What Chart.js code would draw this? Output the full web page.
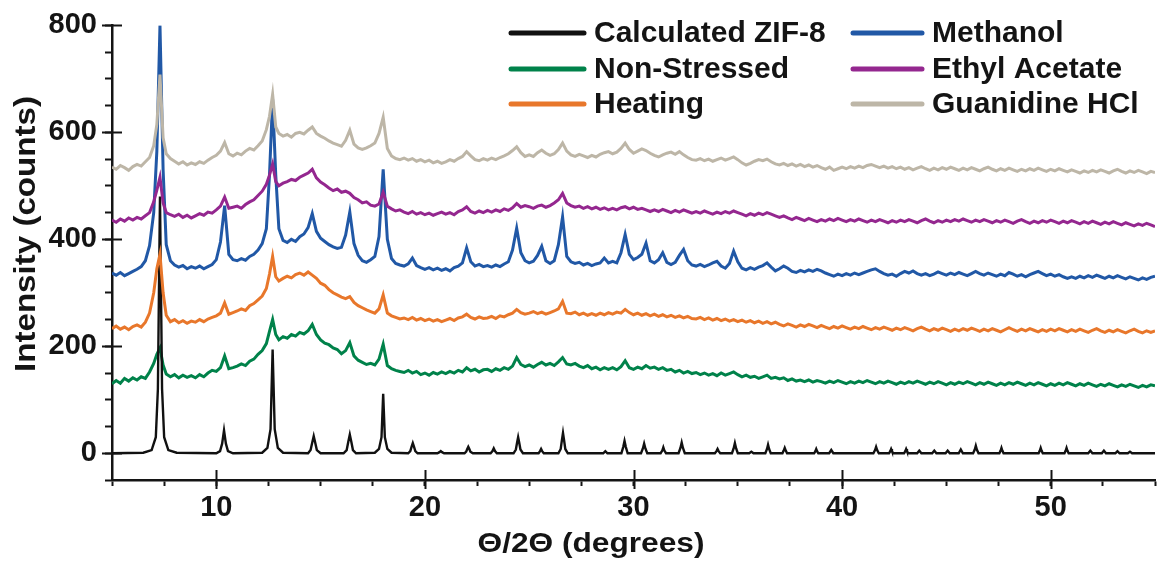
<!DOCTYPE html>
<html>
<head>
<meta charset="utf-8">
<script src="https://cdn.jsdelivr.net/npm/chart.js@4.4.0/dist/chart.umd.min.js"></script>
<style>
  html, body { margin: 0; padding: 0; background: #ffffff; }
  #wrap { width: 1160px; height: 563px; }
</style>
</head>
<body>
<div id="wrap"><canvas id="xrd" width="1160" height="563"></canvas></div>
<script>
// 2theta grid shared by the measured patterns (denser around 7.3 and 12.7)
const twoTheta = [
  5.0, 5.2, 5.4, 5.6, 5.8, 6.0, 6.2, 6.4, 6.6, 6.8,
  7.0, 7.15, 7.3, 7.45, 7.6, 7.8, 8.0, 8.2, 8.4, 8.6, 8.8,
  9.0, 9.2, 9.4, 9.6, 9.8, 10.0, 10.2, 10.4, 10.6, 10.8,
  11.0, 11.2, 11.4, 11.6, 11.8, 12.0, 12.2, 12.4, 12.55, 12.7, 12.85,
  13.0, 13.2, 13.4, 13.6, 13.8, 14.0, 14.2, 14.4, 14.6, 14.8,
  15.0, 15.2, 15.4, 15.6, 15.8, 16.0, 16.2, 16.4, 16.6, 16.8,
  17.0, 17.2, 17.4, 17.6, 17.8, 18.0, 18.2, 18.4, 18.6, 18.8,
  19.0, 19.2, 19.4, 19.6, 19.8, 20.0, 20.2, 20.4, 20.6, 20.8,
  21.0, 21.2, 21.4, 21.6, 21.8, 22.0, 22.2, 22.4, 22.6, 22.8,
  23.0, 23.2, 23.4, 23.6, 23.8, 24.0, 24.2, 24.4, 24.6, 24.8,
  25.0, 25.2, 25.4, 25.6, 25.8, 26.0, 26.2, 26.4, 26.6, 26.8,
  27.0, 27.2, 27.4, 27.6, 27.8, 28.0, 28.2, 28.4, 28.6, 28.8,
  29.0, 29.2, 29.4, 29.6, 29.8, 30.0, 30.2, 30.4, 30.6, 30.8,
  31.0, 31.2, 31.4, 31.6, 31.8, 32.0, 32.2, 32.4, 32.6, 32.8,
  33.0, 33.2, 33.4, 33.6, 33.8, 34.0, 34.2, 34.4, 34.6, 34.8,
  35.0, 35.2, 35.4, 35.6, 35.8, 36.0, 36.2, 36.4, 36.6, 36.8,
  37.0, 37.2, 37.4, 37.6, 37.8, 38.0, 38.2, 38.4, 38.6, 38.8,
  39.0, 39.2, 39.4, 39.6, 39.8, 40.0, 40.2, 40.4, 40.6, 40.8,
  41.0, 41.2, 41.4, 41.6, 41.8, 42.0, 42.2, 42.4, 42.6, 42.8,
  43.0, 43.2, 43.4, 43.6, 43.8, 44.0, 44.2, 44.4, 44.6, 44.8,
  45.0, 45.2, 45.4, 45.6, 45.8, 46.0, 46.2, 46.4, 46.6, 46.8,
  47.0, 47.2, 47.4, 47.6, 47.8, 48.0, 48.2, 48.4, 48.6, 48.8,
  49.0, 49.2, 49.4, 49.6, 49.8, 50.0, 50.2, 50.4, 50.6, 50.8,
  51.0, 51.2, 51.4, 51.6, 51.8, 52.0, 52.2, 52.4, 52.6, 52.8,
  53.0, 53.2, 53.4, 53.6, 53.8, 54.0, 54.2, 54.4, 54.6, 54.8,
  55.0
];

const nonStressed = [
  130, 136, 131, 140, 135, 141, 137, 143, 140, 152,
  168, 185, 197, 165, 148, 143, 147, 141, 146, 142, 145,
  141, 147, 143, 150, 155, 153, 160, 182, 158, 160,
  163, 167, 164, 172, 176, 185, 192, 205, 228, 250, 222,
  212, 218, 215, 222, 219, 226, 223, 229, 241, 222,
  212, 206, 203, 197, 194, 186, 192, 207, 182, 174,
  170, 166, 168, 165, 176, 204, 164, 158, 155, 153,
  151, 155, 150, 153, 147, 150, 146, 151, 148, 152,
  149, 153, 150, 155, 152, 160, 154, 157, 152, 156,
  157, 153, 158, 155, 160, 157, 163, 179, 166, 162,
  165, 161, 166, 170, 165, 168, 164, 171, 179, 167,
  165, 168, 163, 160, 164, 158, 161, 156, 160, 157,
  160, 156, 162, 173, 160, 157, 161, 158, 164, 159,
  161, 157, 160, 155, 157, 152, 155, 150, 153, 149,
  151, 147, 150, 146, 149, 145, 150, 146, 149, 152,
  147, 143, 146, 142, 144, 140, 143, 146, 140, 142,
  139, 141, 136, 139, 135, 137, 134, 137, 133, 136,
  134, 131, 135, 132, 136, 133, 130, 134, 131, 135,
  132, 136, 133, 130, 134, 131, 135, 132, 129, 133,
  130, 134, 131, 135, 132, 129, 133, 130, 134, 131,
  128, 132, 129, 133, 130, 134, 131, 128, 132, 129,
  133, 130, 127, 131, 128, 132, 129, 133, 130, 127,
  131, 128, 132, 129, 126, 130, 127, 131, 128, 132,
  129, 126, 130, 127, 131, 128, 125, 129, 126, 130,
  127, 124, 128, 125, 129, 126, 123, 127, 124, 128,
  126
];

const heating = [
  233, 238, 232, 236, 231, 237, 240, 236, 245, 262,
  300, 345, 372, 300, 258, 246, 250, 244, 248, 243, 247,
  245, 250, 246, 251, 254, 257, 262, 281, 260, 263,
  266, 270, 267, 276, 280, 287, 294, 308, 335, 368, 330,
  322, 327, 331, 328, 334, 337, 333, 339, 333, 327,
  318, 314, 306, 300, 296, 292, 289, 293, 282, 276,
  272, 268, 265, 262, 270, 296, 262, 257, 254, 251,
  253, 250, 254, 249, 252, 248, 251, 247, 250, 246,
  249, 252, 248, 253, 255, 260, 254, 251, 255, 252,
  253, 256, 252, 257, 255, 259, 262, 269, 263, 260,
  262, 265, 261, 264, 260, 263, 266, 270, 284, 262,
  261, 264, 259, 262, 258, 261, 258, 262, 259, 263,
  260, 264, 262, 269, 263, 259, 262, 258, 261, 257,
  260, 256, 259, 255, 258, 254, 257, 253, 256, 252,
  251, 254, 250, 253, 249, 252, 248, 251, 247, 250,
  246, 249, 245, 248, 244, 247, 243, 246, 242, 245,
  241, 238, 242, 239, 236, 240, 237, 241, 238, 235,
  239, 236, 233, 237, 234, 238, 235, 232, 236, 233,
  237, 234, 231, 235, 232, 236, 233, 230, 234, 231,
  235, 232, 229, 233, 236, 232, 229, 233, 230, 234,
  231, 228, 232, 229, 233, 230, 234, 231, 228, 232,
  229, 233, 230, 227, 231, 235, 231, 228, 232, 229,
  233, 230, 227, 231, 228, 232, 229, 233, 230, 227,
  231, 228, 232, 229, 226, 230, 233, 229, 226, 230,
  227, 231, 228, 225, 229, 232, 228, 225, 229, 226,
  229
];

const methanol = [
  337, 333, 338, 332, 336, 340, 344, 349, 360, 388,
  450, 565, 800, 530, 390, 360, 352, 348, 351, 345, 349,
  346, 350, 345, 349, 353, 362, 395, 463, 372, 362,
  360, 364, 361, 368, 372, 380, 392, 420, 520, 662, 520,
  420, 398, 394, 400, 396, 405, 410, 422, 448, 415,
  402, 396, 390, 386, 383, 385, 408, 451, 392, 370,
  360, 357, 362, 368, 405, 531, 400, 364, 355, 352,
  350, 354, 365, 351, 347, 344, 347, 343, 346, 342,
  345, 341, 347, 350, 356, 384, 358, 350, 353, 349,
  351, 348, 352, 349, 354, 358, 380, 421, 375, 360,
  356, 359, 370, 387, 360, 355, 360, 390, 442, 368,
  358, 355, 357, 352, 355, 351, 354, 356, 365, 356,
  359, 356, 375, 409, 372, 362, 366, 372, 393, 360,
  356, 362, 375, 357, 353, 357, 370, 381, 360, 352,
  350, 353, 349, 352, 356, 359, 350, 346, 355, 378,
  358, 346, 343, 347, 344, 348, 351, 356, 348, 341,
  345, 350, 346, 340, 338, 342, 339, 343, 340, 344,
  341, 337, 334, 331, 335, 332, 336, 333, 337, 334,
  337, 340, 343, 345, 340, 336, 333, 335, 331, 336,
  340, 337, 341, 336, 333, 336, 332, 335, 339, 336,
  333, 337, 334, 338, 335, 332, 336, 340, 336, 333,
  337, 334, 331, 335, 332, 338, 335, 331, 334, 330,
  334, 337, 340, 336, 332, 335, 331, 334, 330, 327,
  330, 327, 331, 328, 332, 329, 333, 330, 327, 331,
  328, 332, 329, 326, 330, 327, 324, 328, 325, 329,
  331
];

const ethylAcetate = [
  436, 432, 438, 434, 440, 436, 441, 438, 444, 450,
  470, 492, 516, 468, 450, 446, 443, 447, 441, 445, 440,
  444, 448, 445, 451, 449, 455, 462, 479, 458, 460,
  462, 458, 465, 470, 474, 482, 490, 503, 520, 541, 508,
  500, 505, 508, 512, 510, 516, 520, 524, 531, 515,
  507, 502, 496, 491, 494, 488, 490, 486, 478, 474,
  468, 470, 464, 462, 466, 488, 462, 457, 453, 455,
  451, 448, 452, 447, 450, 446, 449, 445, 448, 451,
  447, 450, 446, 452, 455, 461, 452, 449, 453, 450,
  454, 451, 455, 452, 457, 454, 459, 467, 460, 463,
  461, 458, 462, 464, 460, 463, 468, 474, 486, 468,
  463, 460, 462, 458, 461, 457, 460, 456, 459, 455,
  458, 455, 459, 461, 457, 460, 456, 458, 455, 452,
  455, 452, 456, 453, 450, 454, 451, 455, 452, 449,
  452, 449, 453, 450, 447, 451, 448, 452, 449, 453,
  450, 447, 444, 448, 445, 449, 446, 450, 447, 444,
  441, 444, 440, 437, 441, 438, 435, 439, 436, 433,
  437, 434, 438, 435, 439, 436, 433, 437, 434, 438,
  435, 432, 436, 433, 437, 434, 431, 435, 432, 436,
  433, 437, 434, 431, 435, 438, 434, 431, 435, 432,
  436, 433, 437, 434, 438, 435, 432, 436, 433, 437,
  434, 431, 435, 432, 436, 433, 430, 434, 437, 433,
  430, 434, 431, 435, 432, 436, 433, 430, 434, 431,
  435, 432, 429, 433, 430, 434, 431, 428, 432, 429,
  433, 430, 427, 431, 428, 425, 429, 426, 430, 427,
  424
];

const guanidineHcl = [
  535, 531, 538, 534, 529, 536, 540, 537, 545, 553,
  575, 615, 708, 590, 560, 551, 546, 541, 545, 539, 543,
  540, 545, 542, 548, 553, 557, 565, 581, 560, 556,
  561, 558, 565, 570, 567, 575, 584, 605, 630, 671, 610,
  598, 593, 596, 591, 598, 600, 597, 604, 610, 598,
  593, 589, 584, 580, 577, 574, 585, 604, 578, 571,
  568, 571, 575, 580, 598, 628, 570, 556, 551, 549,
  552, 548, 551, 546, 549, 545, 548, 543, 546, 542,
  545, 549, 546, 551, 555, 564, 556, 549, 547, 551,
  548, 552, 549, 553, 556, 560, 566, 573, 562, 555,
  558, 555, 562, 567, 561, 557, 560, 568, 580, 565,
  558, 555, 559, 556, 553, 557, 554, 559, 562, 564,
  560, 563, 570, 580, 568, 561, 565, 569, 566, 561,
  557, 554, 558, 561, 563, 559, 564, 558, 553, 549,
  548, 551, 547, 550, 546, 549, 552, 548, 551, 554,
  549, 543, 539, 542, 546, 549, 547, 550, 545, 541,
  539, 542, 538, 541, 537, 540, 536, 539, 535, 538,
  534, 531, 535, 529, 532, 535, 532, 536, 533, 537,
  534, 538, 540, 537, 534, 537, 533, 536, 532, 535,
  531, 534, 530, 533, 536, 532, 529, 533, 530, 534,
  531, 535, 532, 529, 533, 530, 534, 531, 528, 532,
  535, 531, 528, 532, 529, 533, 530, 527, 531, 528,
  532, 529, 533, 530, 527, 531, 528, 532, 529, 526,
  530, 527, 524, 528, 525, 529, 526, 530, 527, 524,
  528, 531, 527, 524, 528, 525, 529, 526, 523, 527,
  525
];

// calculated pattern: flat baseline with sharp reflections (one row per reflection)
const calcTheta = [
  5.0, 6.5, 6.9, 7.1, 7.2, 7.3, 7.4, 7.5, 7.7, 8.1,
  10.0, 10.18, 10.28, 10.37, 10.46, 10.56, 10.8,
  12.2, 12.45, 12.6, 12.7, 12.8, 12.95, 13.2,
  14.4, 14.52, 14.6, 14.67, 14.74, 14.82, 15.0,
  16.1, 16.25, 16.33, 16.4, 16.47, 16.55, 16.7,
  17.6, 17.8, 17.92, 18.0, 18.08, 18.2, 18.4,
  19.2, 19.3, 19.36, 19.42, 19.48, 19.54, 19.65,
  20.6, 20.7, 20.76, 20.82, 20.92,
  21.9, 21.98, 22.03, 22.08, 22.13, 22.18, 22.3,
  23.15, 23.24, 23.3, 23.36, 23.45,
  24.25, 24.36, 24.42, 24.47, 24.52, 24.58, 24.7,
  25.45, 25.52, 25.57, 25.62, 25.7,
  26.4, 26.51, 26.57, 26.62, 26.67, 26.73, 26.85,
  28.55, 28.65, 28.75,
  29.42, 29.51, 29.57, 29.63, 29.72,
  30.36, 30.45, 30.51, 30.57, 30.66,
  31.3, 31.38, 31.43, 31.48, 31.56,
  32.16, 32.25, 32.31, 32.37, 32.46,
  33.9, 33.98, 34.03, 34.08, 34.16,
  34.72, 34.8, 34.86, 34.92, 35.0,
  35.55, 35.65, 35.75,
  36.32, 36.4, 36.45, 36.5, 36.58,
  37.14, 37.2, 37.25, 37.3, 37.36,
  38.66, 38.72, 38.76, 38.8, 38.86,
  39.38, 39.48, 39.58,
  41.5, 41.58, 41.63, 41.68, 41.76,
  42.25, 42.31, 42.35, 42.39, 42.45,
  42.97, 43.03, 43.07, 43.11, 43.17,
  43.6, 43.7, 43.8,
  44.32, 44.42, 44.52,
  44.96, 45.06, 45.16,
  45.59, 45.69, 45.79,
  46.28, 46.36, 46.41, 46.46, 46.54,
  47.54, 47.6, 47.64, 47.68, 47.74,
  49.42, 49.48, 49.52, 49.56, 49.62,
  50.66, 50.72, 50.76, 50.8, 50.86,
  51.8, 51.9, 52.0,
  52.45, 52.55, 52.65,
  53.1, 53.2, 53.3,
  53.7, 53.8, 53.9,
  55.0
];
const calcCounts = [
  0, 1, 6, 30, 120, 480, 120, 30, 6, 1,
  0, 4, 18, 43, 18, 4, 0,
  1, 10, 45, 194, 45, 10, 1,
  0, 6, 20, 32, 20, 6, 0,
  0, 6, 22, 35, 22, 6, 0,
  1, 8, 30, 111, 30, 8, 1,
  0, 4, 12, 19, 12, 4, 0,
  0, 2, 4, 2, 0,
  0, 3, 8, 12, 8, 3, 0,
  0, 4, 9, 4, 0,
  0, 7, 20, 30, 20, 7, 0,
  0, 4, 8, 4, 0,
  0, 8, 25, 38, 25, 8, 0,
  0, 4, 0,
  0, 12, 23, 12, 0,
  0, 9, 18, 9, 0,
  0, 5, 11, 5, 0,
  0, 10, 20, 10, 0,
  0, 4, 8, 4, 0,
  0, 9, 19, 9, 0,
  0, 3, 0,
  0, 8, 16, 8, 0,
  0, 5, 10, 5, 0,
  0, 4, 8, 4, 0,
  0, 6, 0,
  0, 6, 12, 6, 0,
  0, 4, 8, 4, 0,
  0, 4, 8, 4, 0,
  0, 5, 0,
  0, 5, 0,
  0, 5, 0,
  0, 7, 0,
  0, 7, 14, 7, 0,
  0, 5, 10, 5, 0,
  0, 5, 10, 5, 0,
  0, 5, 10, 5, 0,
  0, 5, 0,
  0, 5, 0,
  0, 4, 0,
  0, 3, 0,
  0
];

const seriesLabels = ["Calculated ZIF-8", "Non-Stressed", "Heating", "Methanol", "Ethyl Acetate", "Guanidine HCl"];
const seriesColors = ["#111111", "#00824a", "#e8772b", "#2158a6", "#94278f", "#bdb6a7"];
const yTickLabels = [0, 200, 400, 600, 800];
const xTickLabels = [10, 20, 30, 40, 50];

[nonStressed, heating, methanol, ethylAcetate, guanidineHcl].forEach((s, i) => {
  if (s.length !== twoTheta.length) throw new Error("series " + i + " has " + s.length + " points, grid has " + twoTheta.length);
});
if (calcTheta.length !== calcCounts.length) throw new Error("calc arrays differ: " + calcTheta.length + " vs " + calcCounts.length);

const FONT = '"Liberation Sans", Arial, Helvetica, sans-serif';
const INK = "#141414";

function pts(xs, ys) {
  return xs.map((x, i) => ({ x: x, y: ys[i] }));
}

function ds(idx, xs, ys, width) {
  return {
    label: seriesLabels[idx],
    data: pts(xs, ys),
    borderColor: seriesColors[idx],
    backgroundColor: seriesColors[idx],
    borderWidth: width,
    pointRadius: 0,
    tension: 0,
    fill: false
  };
}

// first dataset ends up on top
const datasets = [
  ds(5, twoTheta, guanidineHcl, 3),
  ds(4, twoTheta, ethylAcetate, 3),
  ds(2, twoTheta, heating, 3),
  ds(0, calcTheta, calcCounts, 2.4),
  ds(1, twoTheta, nonStressed, 3),
  ds(3, twoTheta, methanol, 3)
];

// legend is two columns of three
const legendCols = [
  { lineFrom: 511, lineTo: 584, textX: 594, items: ["Calculated ZIF-8", "Non-Stressed", "Heating"] },
  { lineFrom: 853, lineTo: 922, textX: 932, items: ["Methanol", "Ethyl Acetate", "Guanidine HCl"] }
];
const legendRows = [33, 69, 104];

function stretchedText(ctx, text, x, y, px, targetW, angle) {
  ctx.save();
  ctx.translate(x, y);
  ctx.rotate(angle);
  ctx.font = "bold " + px + "px " + FONT;
  const w = ctx.measureText(text).width;
  ctx.scale(targetW / w, 1);
  ctx.textAlign = "center";
  ctx.textBaseline = "middle";
  ctx.fillStyle = INK;
  ctx.fillText(text, 0, 0);
  ctx.restore();
}

const xrdDecor = {
  id: "xrdDecor",
  afterDatasetsDraw(chart) {
    const { ctx, chartArea, scales } = chart;
    ctx.save();
    ctx.strokeStyle = INK;
    ctx.lineWidth = 2;
    // major ticks cross the axis line
    scales.y.ticks.forEach(t => {
      if (!yTickLabels.includes(t.value)) return;
      const py = Math.round(scales.y.getPixelForValue(t.value)) + 0.5;
      ctx.beginPath();
      ctx.moveTo(chartArea.left - 10, py);
      ctx.lineTo(chartArea.left + 10, py);
      ctx.stroke();
    });
    scales.x.ticks.forEach(t => {
      if (!xTickLabels.includes(t.value)) return;
      const px = Math.round(scales.x.getPixelForValue(t.value)) + 0.5;
      ctx.beginPath();
      ctx.moveTo(px, chartArea.bottom - 10);
      ctx.lineTo(px, chartArea.bottom + 9);
      ctx.stroke();
    });
    ctx.restore();
  },
  afterDraw(chart) {
    const ctx = chart.ctx;
    const byLabel = {};
    chart.data.datasets.forEach(d => { byLabel[d.label] = d.borderColor; });
    ctx.save();
    ctx.font = "bold 30px " + FONT;
    ctx.textBaseline = "middle";
    ctx.textAlign = "left";
    legendCols.forEach(col => {
      col.items.forEach((name, r) => {
        const y = legendRows[r];
        ctx.strokeStyle = byLabel[name];
        ctx.lineWidth = 5;
        ctx.lineCap = "round";
        ctx.beginPath();
        ctx.moveTo(col.lineFrom, y);
        ctx.lineTo(col.lineTo, y);
        ctx.stroke();
        ctx.fillStyle = INK;
        ctx.fillText(name, col.textX, y + 1);
      });
    });
    ctx.restore();
    // axis titles
    stretchedText(ctx, "\u0398/2\u0398 (degrees)", 591, 545, 27, 227, 0);
    stretchedText(ctx, "Intensity (counts)", 27, 234, 29, 276, -Math.PI / 2);
  }
};

new Chart(document.getElementById("xrd"), {
  type: "line",
  data: { datasets: datasets },
  plugins: [xrdDecor],
  options: {
    responsive: false,
    animation: false,
    devicePixelRatio: 1,
    layout: { padding: { left: 0, right: 2, top: 23, bottom: 0 } },
    plugins: {
      legend: { display: false },
      tooltip: { enabled: false },
      title: { display: false }
    },
    scales: {
      x: {
        type: "linear",
        min: 5,
        max: 55,
        afterFit: s => { s.height = 83; },
        border: { display: true, color: INK, width: 2.5 },
        grid: { display: true, drawOnChartArea: false, drawTicks: true, tickLength: 6, tickWidth: 2, tickColor: INK },
        ticks: {
          stepSize: 2.5,
          autoSkip: false,
          maxRotation: 0,
          padding: 5,
          color: INK,
          font: { family: FONT, size: 29, weight: "bold" },
          callback: v => (xTickLabels.includes(v) ? String(v) : "")
        }
      },
      y: {
        type: "linear",
        min: -50,
        max: 800,
        afterFit: s => { s.width = 112; },
        border: { display: true, color: INK, width: 2.5 },
        grid: { display: true, drawOnChartArea: false, drawTicks: true, tickLength: 7, tickWidth: 2, tickColor: INK },
        ticks: {
          stepSize: 50,
          autoSkip: false,
          padding: 8,
          color: INK,
          font: { family: FONT, size: 29, weight: "bold" },
          callback: v => (yTickLabels.includes(v) ? String(v) : "")
        }
      }
    }
  }
});
</script>
</body>
</html>
